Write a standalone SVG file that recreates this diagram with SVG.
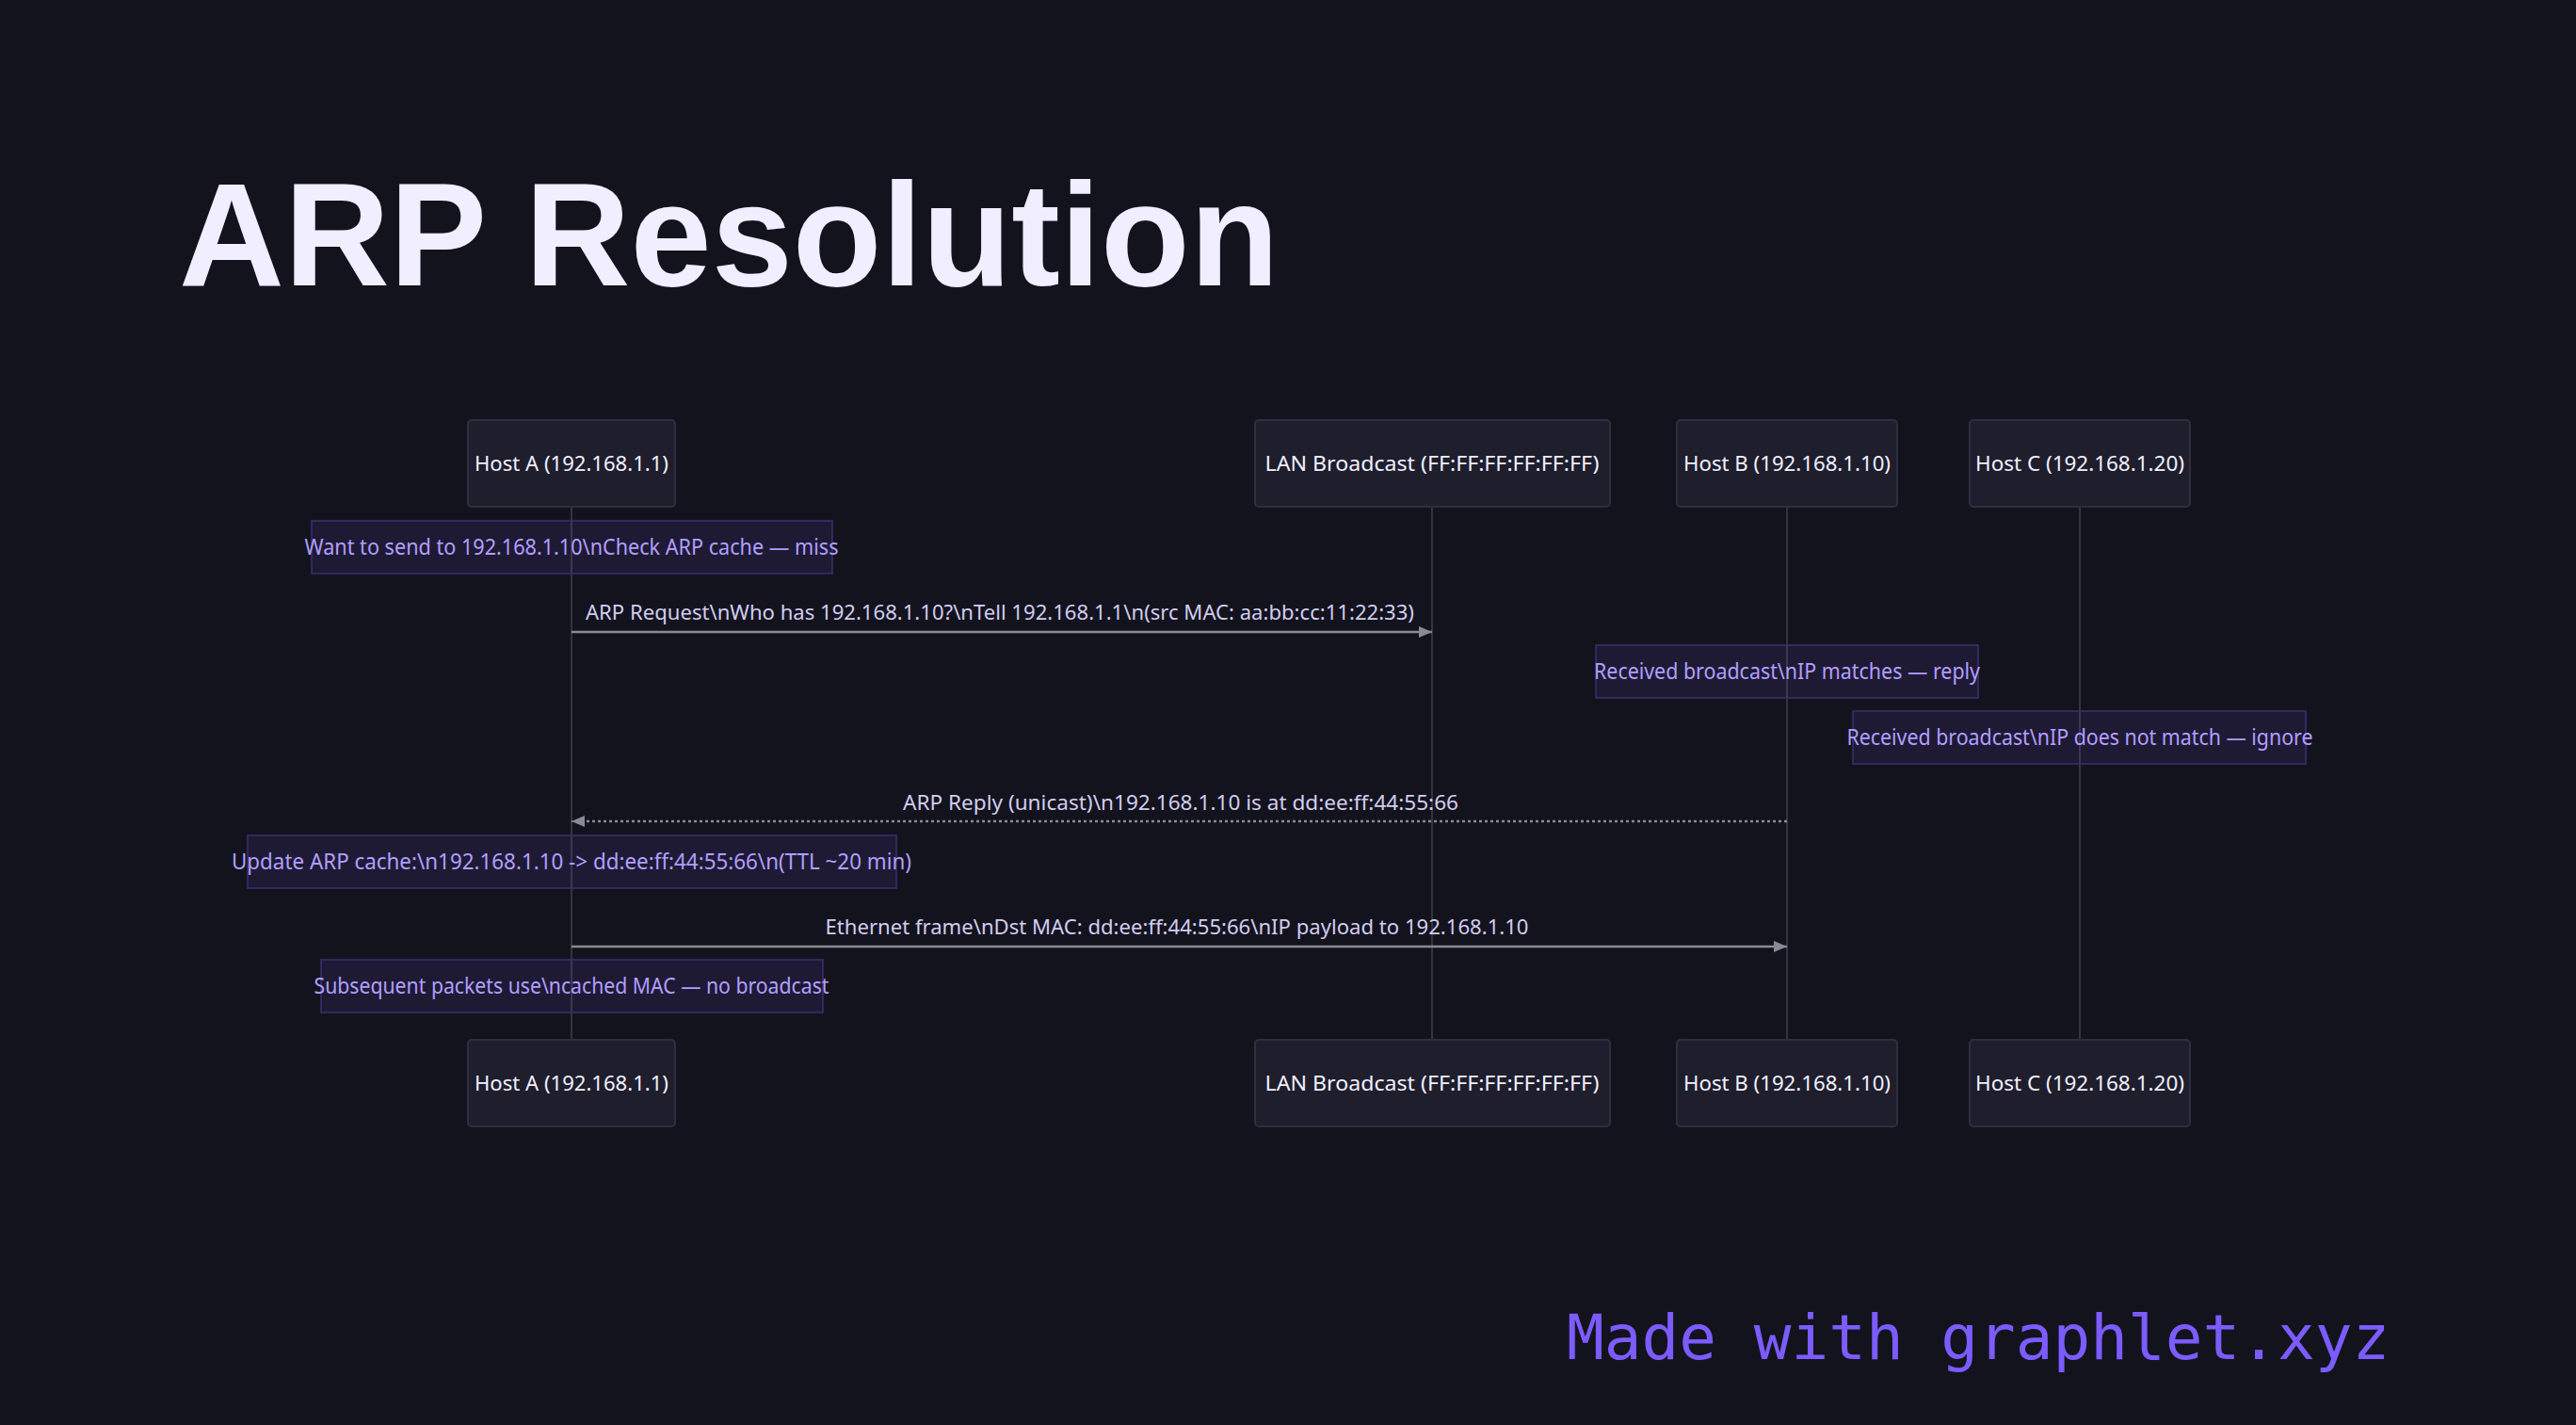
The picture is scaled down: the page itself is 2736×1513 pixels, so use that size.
<svg xmlns="http://www.w3.org/2000/svg" width="2736" height="1513" viewBox="0 0 2736 1513">
<style>
.bg{fill:#13131e}
.title{font-family:"Liberation Sans",Arial,sans-serif;font-weight:700;font-size:155px;fill:#f0eeff}
.pbox{fill:#1e1e2d;stroke:#2e2e3e;stroke-width:2}
.ptext{font-family:"Noto Sans","DejaVu Sans",sans-serif;font-size:22px;fill:#f2f0ff;text-anchor:middle}
.life{stroke:#34343f;stroke-width:2}
.note{fill:#7c5cff;fill-opacity:0.1;stroke:#3a3070;stroke-width:1.5}
.ntext{font-family:"Noto Sans","DejaVu Sans",sans-serif;font-size:23px;fill:#b29fff;text-anchor:middle}
.msg{stroke:#8a8a96;stroke-width:2.5;fill:none}
.dash{stroke-dasharray:3 3}
.mtext{font-family:"Noto Sans","DejaVu Sans",sans-serif;font-size:21px;fill:#d2cdee;text-anchor:middle}
.foot{font-family:"DejaVu Sans Mono","Liberation Mono",monospace;font-size:66px;fill:#7c5cff}
</style>
<defs>
<marker id="ah" markerUnits="userSpaceOnUse" markerWidth="16" markerHeight="14" refX="14" refY="6" orient="auto">
<path d="M0,0 L14,6 L0,12 Z" fill="#8a8a96"/>
</marker>
</defs>
<rect class="bg" x="0" y="0" width="2736" height="1513"/>
<text class="title" x="190" y="303">ARP Resolution</text>

<g id="lifelines">
<line class="life" x1="607" y1="538" x2="607" y2="1104"/>
<line class="life" x1="1521" y1="538" x2="1521" y2="1104"/>
<line class="life" x1="1898" y1="538" x2="1898" y2="1104"/>
<line class="life" x1="2209" y1="538" x2="2209" y2="1104"/>
</g>

<g id="hostA">
<rect class="pbox" x="497" y="446" width="220" height="92" rx="4"/>
<text class="ptext" x="607" y="500" textLength="206" lengthAdjust="spacingAndGlyphs">Host A (192.168.1.1)</text>
<rect class="pbox" x="497" y="1104" width="220" height="92" rx="4"/>
<text class="ptext" x="607" y="1158" textLength="206" lengthAdjust="spacingAndGlyphs">Host A (192.168.1.1)</text>
</g>
<g id="lan">
<rect class="pbox" x="1333" y="446" width="377" height="92" rx="4"/>
<text class="ptext" x="1521" y="500" textLength="355" lengthAdjust="spacingAndGlyphs">LAN Broadcast (FF:FF:FF:FF:FF:FF)</text>
<rect class="pbox" x="1333" y="1104" width="377" height="92" rx="4"/>
<text class="ptext" x="1521" y="1158" textLength="355" lengthAdjust="spacingAndGlyphs">LAN Broadcast (FF:FF:FF:FF:FF:FF)</text>
</g>
<g id="hostB">
<rect class="pbox" x="1781" y="446" width="234" height="92" rx="4"/>
<text class="ptext" x="1898" y="500" textLength="220" lengthAdjust="spacingAndGlyphs">Host B (192.168.1.10)</text>
<rect class="pbox" x="1781" y="1104" width="234" height="92" rx="4"/>
<text class="ptext" x="1898" y="1158" textLength="220" lengthAdjust="spacingAndGlyphs">Host B (192.168.1.10)</text>
</g>
<g id="hostC">
<rect class="pbox" x="2092" y="446" width="234" height="92" rx="4"/>
<text class="ptext" x="2209" y="500" textLength="222" lengthAdjust="spacingAndGlyphs">Host C (192.168.1.20)</text>
<rect class="pbox" x="2092" y="1104" width="234" height="92" rx="4"/>
<text class="ptext" x="2209" y="1158" textLength="222" lengthAdjust="spacingAndGlyphs">Host C (192.168.1.20)</text>
</g>

<g id="note1">
<rect class="note" x="331" y="553" width="553" height="56"/>
<text class="ntext" x="607" y="589" textLength="567" lengthAdjust="spacingAndGlyphs">Want to send to 192.168.1.10\nCheck ARP cache — miss</text>
</g>
<g id="note2">
<rect class="note" x="1695" y="685" width="406" height="56"/>
<text class="ntext" x="1898" y="721" textLength="410" lengthAdjust="spacingAndGlyphs">Received broadcast\nIP matches — reply</text>
</g>
<g id="note3">
<rect class="note" x="1968" y="755" width="481" height="56"/>
<text class="ntext" x="2209" y="791" textLength="495" lengthAdjust="spacingAndGlyphs">Received broadcast\nIP does not match — ignore</text>
</g>
<g id="note4">
<rect class="note" x="263" y="887" width="689" height="56"/>
<text class="ntext" x="607" y="923" textLength="722" lengthAdjust="spacingAndGlyphs">Update ARP cache:\n192.168.1.10 -&gt; dd:ee:ff:44:55:66\n(TTL ~20 min)</text>
</g>
<g id="note5">
<rect class="note" x="341" y="1019" width="533" height="56"/>
<text class="ntext" x="607" y="1055" textLength="547" lengthAdjust="spacingAndGlyphs">Subsequent packets use\ncached MAC — no broadcast</text>
</g>

<g id="connectors">
<line class="msg" x1="607" y1="671" x2="1521" y2="671" marker-end="url(#ah)"/>
<text class="mtext" x="1062" y="658" textLength="880" lengthAdjust="spacingAndGlyphs">ARP Request\nWho has 192.168.1.10?\nTell 192.168.1.1\n(src MAC: aa:bb:cc:11:22:33)</text>
<line class="msg dash" x1="1898" y1="872" x2="607" y2="872" marker-end="url(#ah)"/>
<text class="mtext" x="1254" y="860" textLength="590" lengthAdjust="spacingAndGlyphs">ARP Reply (unicast)\n192.168.1.10 is at dd:ee:ff:44:55:66</text>
<line class="msg" x1="607" y1="1005" x2="1898" y2="1005" marker-end="url(#ah)"/>
<text class="mtext" x="1250" y="992" textLength="747" lengthAdjust="spacingAndGlyphs">Ethernet frame\nDst MAC: dd:ee:ff:44:55:66\nIP payload to 192.168.1.10</text>
</g>

<text class="foot" x="1664" y="1443">Made with graphlet.xyz</text>
</svg>
